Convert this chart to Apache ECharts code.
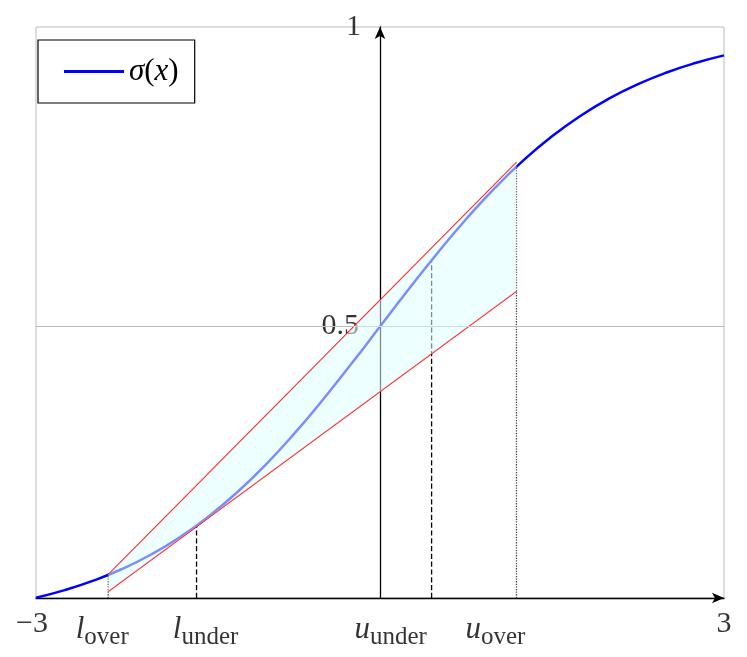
<!DOCTYPE html>
<html><head><meta charset="utf-8">
<script src="https://cdn.jsdelivr.net/npm/echarts@6/dist/echarts.min.js"></script>
<style>html,body{margin:0;padding:0;background:#fff}#c{width:747px;height:657px}</style>
</head><body><div id="c"></div>
<script>
const xs = [-3,-2.75,-2.5,-2.25,-2,-1.75,-1.5,-1.25,-1,-0.75,-0.5,-0.25,0,0.25,0.5,0.75,1,1.25,1.5,1.75,2,2.25,2.5,2.75,3];
const sig = [0.0474,0.0601,0.0759,0.0954,0.1192,0.148,0.1824,0.2227,0.2689,0.3208,0.3775,0.4378,0.5,0.5622,0.6225,0.6792,0.7311,0.7773,0.8176,0.852,0.8808,0.9046,0.9241,0.9399,0.9526];
const lOver = -2.37, lUnder = -1.6, uUnder = 0.45, uOver = 1.19;
const curveAt = {lOver:0.086, lUnder:0.168, uUnder:0.611, uOver:0.768};
const upperLine = [[lOver,0.086],[uOver,0.774]];
const lowerLine = [[lOver,0.058],[uOver,0.559]];
const yMin = 0.047, yMax = 1.0;
const serif = '"Liberation Serif","DejaVu Serif",serif';

const chart = echarts.init(document.getElementById('c'));
function vline(x, y, type, color){
  return {type:'line', data:[[x,yMin],[x,y]], symbol:'none', silent:true,
    lineStyle:{color:color||'#000', width:1.3, type:type}, z:2};
}
function xlabel(x, main, sub, off){
  return {type:'scatter', data:[[x,yMin]], symbolSize:0, silent:true,
    label:{show:true, position:'bottom', offset:[off,6],
      formatter: sub ? '{i|'+main+'}{s|'+sub+'}' : '{n|'+main+'}',
      rich:{i:{fontFamily:serif, fontStyle:'italic', fontSize:31, color:'#000'},
            s:{fontFamily:serif, fontSize:25, color:'#000', padding:[16,0,0,0]},
            n:{fontFamily:serif, fontSize:30, color:'#000'}}}};
}
chart.setOption({
  animation:false,
  grid:{left:36,right:23,top:27,bottom:59,show:true,borderColor:'#bbb',borderWidth:1},
  legend:{show:true, left:38, top:40, orient:'vertical', data:['sig'], borderColor:'#000', borderWidth:1.2,
    padding:[16,16,16,26], itemWidth:60, itemHeight:3, icon:'rect', itemGap:0,
    formatter:()=>'{b|σ}{a|(}{b|x}{a|)}',
    textStyle:{rich:{a:{fontFamily:serif,fontSize:31,color:'#000'},b:{fontFamily:serif,fontSize:31,fontStyle:'italic',color:'#000'}}}},
  xAxis:{type:'value', min:-3, max:3, axisLine:{onZero:false, symbol:['none','arrow'], symbolSize:[8,12], lineStyle:{color:'#000',width:1.3}},
    axisTick:{show:false}, axisLabel:{show:false}, splitLine:{show:false}},
  yAxis:{type:'value', min:yMin, max:yMax, axisLine:{onZero:true, symbol:['none','arrow'], symbolSize:[8,12], lineStyle:{color:'#000',width:1.3}},
    axisTick:{show:false}, axisLabel:{show:false}, splitLine:{show:false}},
  series:[
    {name:'sig', type:'line', data:xs.map((x,i)=>[x,sig[i]]), smooth:true, symbol:'none',
      lineStyle:{color:'#0000ff', width:2.5}, itemStyle:{color:'#0000ff'}, z:3,
      markLine:{silent:true, symbol:'none', label:{show:false}, lineStyle:{color:'#bbb',type:'solid',width:1}, data:[{yAxis:0.5}]}},
    {type:'line', data:upperLine, symbol:'none', lineStyle:{color:'#ff0000', width:1.3}, z:4},
    {type:'line', data:lowerLine, symbol:'none', lineStyle:{color:'#ff0000', width:1.3}, z:4},
    vline(lUnder, curveAt.lUnder, 'dashed'),
    vline(uUnder, curveAt.uUnder, 'dashed'),
    vline(lOver, curveAt.lOver, 'dotted', '#444'),
    vline(uOver, curveAt.uOver, 'dotted', '#444'),
    {type:'custom', z:5, silent:true, data:[0],
      renderItem:(p, api)=>{
        const pts=[upperLine[0],upperLine[1],lowerLine[1],lowerLine[0]].map(d=>api.coord(d));
        return {type:'polygon', shape:{points:pts}, style:{fill:'rgba(224,255,255,0.55)'}};
      }},
    xlabel(-3,'−3',null,-4),
    xlabel(3,'3',null,0),
    xlabel(lOver,'l','over',-6),
    xlabel(lUnder,'l','under',9),
    xlabel(uUnder,'u','under',-41),
    xlabel(uOver,'u','over',-21),
    {type:'scatter', symbolSize:0, silent:true, data:[[0,yMax]],
      label:{show:true, position:'left', offset:[-14,0], formatter:'1', fontFamily:serif, fontSize:30, color:'#000'}},
    {type:'scatter', symbolSize:0, silent:true, data:[[0,0.5]],
      label:{show:true, position:'left', offset:[-16,0], formatter:'0.5', fontFamily:serif, fontSize:30, color:'#000'}}
  ]
});
</script></body></html>
